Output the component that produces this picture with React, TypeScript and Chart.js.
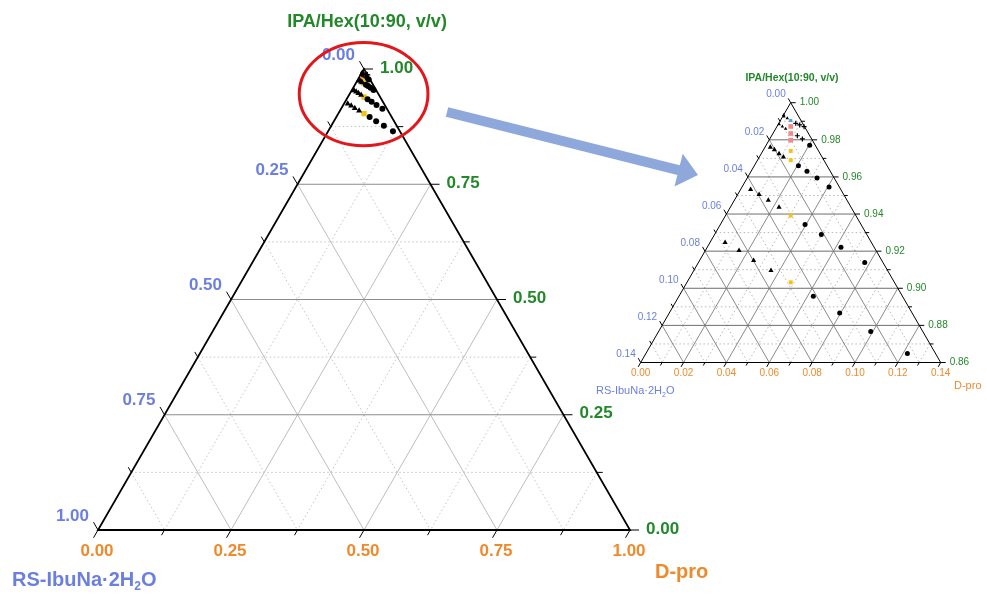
import React, { useEffect, useRef } from "react";
import { Chart, registerables } from "chart.js";

Chart.register(...registerables);

const H = Math.sqrt(3) / 2;

// ---- tick labels ----
const bigRsTicks = ["0.00", "0.25", "0.50", "0.75", "1.00"];
const bigIpaTicks = ["1.00", "0.75", "0.50", "0.25", "0.00"];
const bigDTicks = ["0.00", "0.25", "0.50", "0.75", "1.00"];
const smallRsTicks = ["0.00", "0.02", "0.04", "0.06", "0.08", "0.10", "0.12", "0.14"];
const smallIpaTicks = ["1.00", "0.98", "0.96", "0.94", "0.92", "0.90", "0.88", "0.86"];
const smallDTicks = ["0.00", "0.02", "0.04", "0.06", "0.08", "0.10", "0.12", "0.14"];

// ---- data: mass fractions of RS-IbuNa·2H2O and D-pro (IPA/Hex = 1 - RS - D) ----
const triangleRS = [0.0683, 0.0639, 0.0598, 0.0544, 0.0421, 0.0395, 0.0367, 0.0336, 0.0215, 0.0203, 0.0192, 0.018];
const triangleD = [0.0071, 0.0157, 0.0252, 0.036, 0.0047, 0.01, 0.0158, 0.0227, 0.0025, 0.0051, 0.0083, 0.0112];
const circleRS = [0.0131, 0.0243, 0.0338, 0.0416, 0.0085, 0.0155, 0.0212, 0.0261, 0.0048, 0.008, 0.0109, 0.0134, 0.0026];
const circleD = [0.122, 0.099, 0.0795, 0.0627, 0.0776, 0.0624, 0.0498, 0.0395, 0.0406, 0.0326, 0.0261, 0.0206, 0.0203];
const smallTriRS = [0.0066, 0.0069, 0.0058, 0.0112, 0.0103, 0.0094];
const smallTriD = [0.0, 0.0006, 0.0026, 0.0004, 0.0025, 0.0047];
const plusRS = [0.0032, 0.0018, 0.0002, 0.0058, 0.0043];
const plusD = [0.0079, 0.0102, 0.0127, 0.012, 0.0152];
const yellowRS = [0.013, 0.0155, 0.0304, 0.0484];
const yellowD = [0.013, 0.0155, 0.0304, 0.0484];
const pinkRS = [0.0064, 0.0083, 0.0101];
const pinkD = [0.0064, 0.0083, 0.0101];
const blueRS = [0.0048];
const blueD = [0.0048];

const BLUE = "#6b7fe0";
const GREEN = "#23882a";
const ORANGE = "#ee8a2c";
const FONT = "'Liberation Sans', Arial, sans-serif";

const toXY = (rs: number, d: number, span: number) => ({
  x: 0.5 + (d - rs) / (2 * span),
  y: (1 - (rs + d) / span) * H,
});
const pts = (rs: number[], d: number[], span: number) => rs.map((r, i) => toXY(r, d[i], span));

type Frame = {
  span: number;
  steps: number;
  edgeW: number;
  hGrid: string;
  dGrid: string;
  dotGrid: string;
  majorTick: number;
  minorTick: number;
  font: string;
  rsLabels: string[];
  ipaLabels: string[];
  dLabels: string[];
  rsOff: [number, number];
  ipaOff: [number, number];
  dOff: [number, number];
};

function ternaryPlugin(f: Frame) {
  return {
    id: "ternaryFrame",
    beforeDatasetsDraw(chart: any) {
      const ctx = chart.ctx as CanvasRenderingContext2D;
      const xs = chart.scales.x;
      const ys = chart.scales.y;
      const P = (rs: number, d: number): [number, number] => {
        const q = toXY(rs, d, f.span);
        return [xs.getPixelForValue(q.x), ys.getPixelForValue(q.y)];
      };
      const line = (a: [number, number], b: [number, number]) => {
        ctx.beginPath();
        ctx.moveTo(a[0], a[1]);
        ctx.lineTo(b[0], b[1]);
        ctx.stroke();
      };
      const step = f.span / f.steps;
      ctx.save();
      ctx.lineWidth = 1;
      for (let k = 1; k < f.steps; k += 2) {
        const v = k * step;
        ctx.setLineDash([1.5, 2.5]);
        ctx.strokeStyle = f.dotGrid;
        line(P(v, 0), P(v, f.span - v));
        line(P(0, v), P(f.span - v, v));
        line(P(v, 0), P(0, v));
      }
      ctx.setLineDash([]);
      for (let k = 2; k < f.steps; k += 2) {
        const v = k * step;
        ctx.strokeStyle = f.dGrid;
        line(P(v, 0), P(v, f.span - v));
        line(P(0, v), P(f.span - v, v));
        ctx.strokeStyle = f.hGrid;
        line(P(v, 0), P(0, v));
      }
      ctx.strokeStyle = "#000";
      ctx.lineWidth = 1;
      for (let k = 0; k <= f.steps; k++) {
        const v = k * step;
        const len = k % 2 === 0 ? f.majorTick : f.minorTick;
        const L = P(v, 0);
        line(L, [L[0] - 0.5 * len, L[1] - H * len]);
        const R = P(0, v);
        line(R, [R[0] + len, R[1]]);
        const B = P(f.span - v, v);
        line(B, [B[0] - 0.5 * len, B[1] + H * len]);
      }
      ctx.lineWidth = f.edgeW;
      ctx.lineJoin = "miter";
      const A = P(f.span, 0);
      const Bv = P(0, f.span);
      const C = P(0, 0);
      ctx.beginPath();
      ctx.moveTo(A[0], A[1]);
      ctx.lineTo(Bv[0], Bv[1]);
      ctx.lineTo(C[0], C[1]);
      ctx.closePath();
      ctx.stroke();
      ctx.font = f.font;
      ctx.textBaseline = "middle";
      for (let k = 0; k <= f.steps; k += 2) {
        const i = k / 2;
        const v = k * step;
        const L = P(v, 0);
        ctx.fillStyle = BLUE;
        ctx.textAlign = "right";
        ctx.fillText(f.rsLabels[i], L[0] + f.rsOff[0], L[1] + f.rsOff[1]);
        const R = P(0, v);
        ctx.fillStyle = GREEN;
        ctx.textAlign = "left";
        ctx.fillText(f.ipaLabels[i], R[0] + f.ipaOff[0], R[1] + f.ipaOff[1]);
        const B = P(f.span - v, v);
        ctx.fillStyle = ORANGE;
        ctx.textAlign = "center";
        ctx.fillText(f.dLabels[i], B[0] + f.dOff[0], B[1] + f.dOff[1]);
      }
      ctx.restore();
    },
  };
}

function drawFormula(ctx: CanvasRenderingContext2D, x: number, y: number, size: number, weight: string, color: string) {
  ctx.save();
  ctx.fillStyle = color;
  ctx.textAlign = "left";
  ctx.textBaseline = "middle";
  ctx.font = `${weight} ${size}px ${FONT}`;
  const a = "RS-IbuNa·2H";
  ctx.fillText(a, x, y);
  let cx = x + ctx.measureText(a).width;
  ctx.font = `${weight} ${Math.round(size * 0.6)}px ${FONT}`;
  ctx.fillText("2", cx, y + size * 0.35);
  cx += ctx.measureText("2").width;
  ctx.font = `${weight} ${size}px ${FONT}`;
  ctx.fillText("O", cx, y);
  ctx.restore();
}

function text(ctx: CanvasRenderingContext2D, s: string, x: number, y: number, font: string, color: string, align: CanvasTextAlign) {
  ctx.save();
  ctx.font = font;
  ctx.fillStyle = color;
  ctx.textAlign = align;
  ctx.textBaseline = "middle";
  ctx.fillText(s, x, y);
  ctx.restore();
}

const bigDecor = {
  id: "bigDecor",
  afterDraw(chart: any) {
    const ctx = chart.ctx as CanvasRenderingContext2D;
    const xs = chart.scales.x;
    const ys = chart.scales.y;
    text(ctx, "IPA/Hex(10:90, v/v)", 367, 22, `bold 18px ${FONT}`, GREEN, "center");
    drawFormula(ctx, 12, 580, 20, "bold", BLUE);
    text(ctx, "D-pro", 655, 572, `bold 20px ${FONT}`, ORANGE, "left");
    const c = toXY(0.028, 0.0265, 1);
    const cx = xs.getPixelForValue(c.x);
    const cy = ys.getPixelForValue(c.y);
    const pxPerUnit = xs.getPixelForValue(1) - xs.getPixelForValue(0);
    ctx.save();
    ctx.strokeStyle = "#e3161b";
    ctx.lineWidth = 3;
    ctx.beginPath();
    ctx.ellipse(cx, cy, 0.121 * pxPerUnit, 0.097 * pxPerUnit, 0, 0, Math.PI * 2);
    ctx.stroke();
    const sx = 447, sy = 112, tx = 698, ty = 175;
    const dx = tx - sx, dy = ty - sy;
    const len = Math.hypot(dx, dy);
    const ux = dx / len, uy = dy / len;
    const nx = -uy, ny = ux;
    const hw = 5, hl = 20, hh = 17;
    const bx = tx - ux * hl, by = ty - uy * hl;
    ctx.fillStyle = "#8ea8dc";
    ctx.beginPath();
    ctx.moveTo(sx + nx * hw, sy + ny * hw);
    ctx.lineTo(bx + nx * hw, by + ny * hw);
    ctx.lineTo(bx + nx * hh, by + ny * hh);
    ctx.lineTo(tx, ty);
    ctx.lineTo(bx - nx * hh, by - ny * hh);
    ctx.lineTo(bx - nx * hw, by - ny * hw);
    ctx.lineTo(sx - nx * hw, sy - ny * hw);
    ctx.closePath();
    ctx.fill();
    ctx.restore();
  },
};

const smallDecor = {
  id: "smallDecor",
  afterDraw(chart: any) {
    const ctx = chart.ctx as CanvasRenderingContext2D;
    text(ctx, "IPA/Hex(10:90, v/v)", 792, 78, `bold 10.5px ${FONT}`, GREEN, "center");
    drawFormula(ctx, 596, 391, 11, "normal", BLUE);
    text(ctx, "D-pro", 954, 386, `11px ${FONT}`, ORANGE, "left");
  },
};

type Sizes = { tri: number; dot: number; smallTri: number; plus: number; yellow: number; pink: number; blue: number };

function datasets(span: number, s: Sizes) {
  const base = { showLine: false, clip: false as any, borderWidth: 0 };
  return [
    { ...base, data: pts(triangleRS, triangleD, span), pointStyle: "triangle", pointRadius: s.tri, backgroundColor: "#000", borderColor: "#000" },
    { ...base, data: pts(circleRS, circleD, span), pointStyle: "circle", pointRadius: s.dot, backgroundColor: "#000", borderColor: "#000" },
    { ...base, data: pts(smallTriRS, smallTriD, span), pointStyle: "triangle", pointRadius: s.smallTri, backgroundColor: "#000", borderColor: "#000" },
    { ...base, data: pts(plusRS, plusD, span), pointStyle: "cross", pointRadius: s.plus, borderWidth: 1.2, backgroundColor: "#000", borderColor: "#000" },
    { ...base, data: pts(yellowRS, yellowD, span), pointStyle: "rect", pointRadius: s.yellow, backgroundColor: "#f2c40f", borderColor: "#f2c40f" },
    { ...base, data: pts(pinkRS, pinkD, span), pointStyle: "rect", pointRadius: s.pink, backgroundColor: "#f08a8a", borderColor: "#f08a8a" },
    { ...base, data: pts(blueRS, blueD, span), pointStyle: "rect", pointRadius: s.blue, backgroundColor: "#4aa0e0", borderColor: "#4aa0e0" },
  ];
}

function makeChart(canvas: HTMLCanvasElement, span: number, padding: any, sizes: Sizes, frame: Frame, decor: any) {
  return new Chart(canvas, {
    type: "scatter",
    data: { datasets: datasets(span, sizes) as any },
    options: {
      animation: false,
      responsive: false,
      devicePixelRatio: 1,
      events: [],
      layout: { padding },
      scales: {
        x: { type: "linear", min: 0, max: 1, display: false },
        y: { type: "linear", min: 0, max: H, display: false },
      },
      plugins: { legend: { display: false }, tooltip: { enabled: false }, title: { display: false } },
    },
    plugins: [ternaryPlugin(frame), decor],
  } as any);
}

export default function App() {
  const bigRef = useRef<HTMLCanvasElement>(null);
  const smallRef = useRef<HTMLCanvasElement>(null);
  useEffect(() => {
    const big = makeChart(
      bigRef.current!,
      1,
      { left: 98, right: 357, top: 69, bottom: 64 },
      { tri: 3.5, dot: 3, smallTri: 2.5, plus: 3, yellow: 3.8, pink: 5, blue: 3 },
      {
        span: 1,
        steps: 8,
        edgeW: 1.8,
        hGrid: "#8c8c8c",
        dGrid: "#bdbdbd",
        dotGrid: "#c4c4c4",
        majorTick: 9,
        minorTick: 6,
        font: `bold 17px ${FONT}`,
        rsLabels: bigRsTicks,
        ipaLabels: bigIpaTicks,
        dLabels: bigDTicks,
        rsOff: [-9, -14],
        ipaOff: [16, -1],
        dOff: [-1, 21],
      },
      bigDecor
    );
    const small = makeChart(
      smallRef.current!,
      0.14,
      { left: 640.7, right: 46.3, top: 102.7, bottom: 231.5 },
      { tri: 3, dot: 2.5, smallTri: 2, plus: 2.5, yellow: 2.8, pink: 3.3, blue: 2.2 },
      {
        span: 0.14,
        steps: 14,
        edgeW: 1,
        hGrid: "#6e6e6e",
        dGrid: "#8a8a8a",
        dotGrid: "#b8b8b8",
        majorTick: 5,
        minorTick: 3.5,
        font: `10px ${FONT}`,
        rsLabels: smallRsTicks,
        ipaLabels: smallIpaTicks,
        dLabels: smallDTicks,
        rsOff: [-5, -8],
        ipaOff: [9, 0],
        dOff: [0, 11],
      },
      smallDecor
    );
    return () => {
      big.destroy();
      small.destroy();
    };
  }, []);
  return (
    <div style={{ position: "fixed", left: 0, top: 0, width: 987, height: 594, background: "#fff" }}>
      <canvas ref={bigRef} width={987} height={594} style={{ position: "absolute", left: 0, top: 0 }} />
      <canvas ref={smallRef} width={987} height={594} style={{ position: "absolute", left: 0, top: 0 }} />
    </div>
  );
}
